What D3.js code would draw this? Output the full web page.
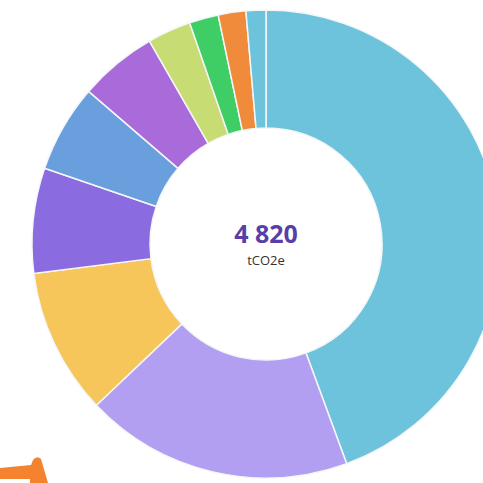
<!DOCTYPE html>
<html>
<head>
<meta charset="utf-8">
<script src="https://cdn.jsdelivr.net/npm/d3@7/dist/d3.min.js"></script>
<style>
html,body{margin:0;padding:0;background:#fff;overflow:hidden;}
svg{display:block;}
</style>
</head>
<body>
<svg id="chart" width="483" height="483"></svg>
<script>
const categories = ["Cat 1","Cat 2","Cat 3","Cat 4","Cat 5","Cat 6","Cat 7","Cat 8","Cat 9","Cat 10"];
const values = [2140, 892, 486, 350, 292, 260, 145, 97, 92, 66];
const colors = ["#6ec3dc","#b39ff1","#f6c65b","#8a6be0","#6a9fdd","#a96bd9","#c7dc72","#3fcd66","#f08b3b","#6ec3dc"];
const totalLabel = "4 820";
const unitLabel = "tCO2e";

const svg = d3.select("#chart");
const cx = 266, cy = 244, rOuter = 234, rInner = 116;

const pie = d3.pie().value(d => d).sort(null);
const arc = d3.arc().innerRadius(rInner).outerRadius(rOuter);
const color = d3.scaleOrdinal().domain(categories).range(colors);

const g = svg.append("g").attr("transform", `translate(${cx},${cy})`);
g.selectAll("path")
  .data(pie(values))
  .join("path")
  .attr("d", arc)
  .attr("fill", (d, i) => color(categories[i]))
  .attr("stroke", "#f4f6f8")
  .attr("stroke-width", 1.5);

g.append("text")
  .attr("text-anchor", "middle")
  .attr("y", -1)
  .attr("font-family", "'Open Sans', sans-serif")
  .attr("font-weight", 700)
  .attr("font-size", 25)
  .attr("fill", "#5a3ea8")
  .text(totalLabel);

g.append("text")
  .attr("text-anchor", "middle")
  .attr("y", 21)
  .attr("font-family", "'Open Sans', sans-serif")
  .attr("font-size", 13)
  .attr("fill", "#333")
  .text(unitLabel);

// decorative orange arrow fragment at bottom-left
svg.append("path")
  .attr("d", "M0,468 L31,465 L33,460 Q37,455 41,459 L48,483 L0,483 Z")
  .attr("fill", "#f5822e");
svg.append("rect").attr("x",0).attr("y",479).attr("width",30).attr("height",4).attr("fill","#fff");
</script>
</body>
</html>
